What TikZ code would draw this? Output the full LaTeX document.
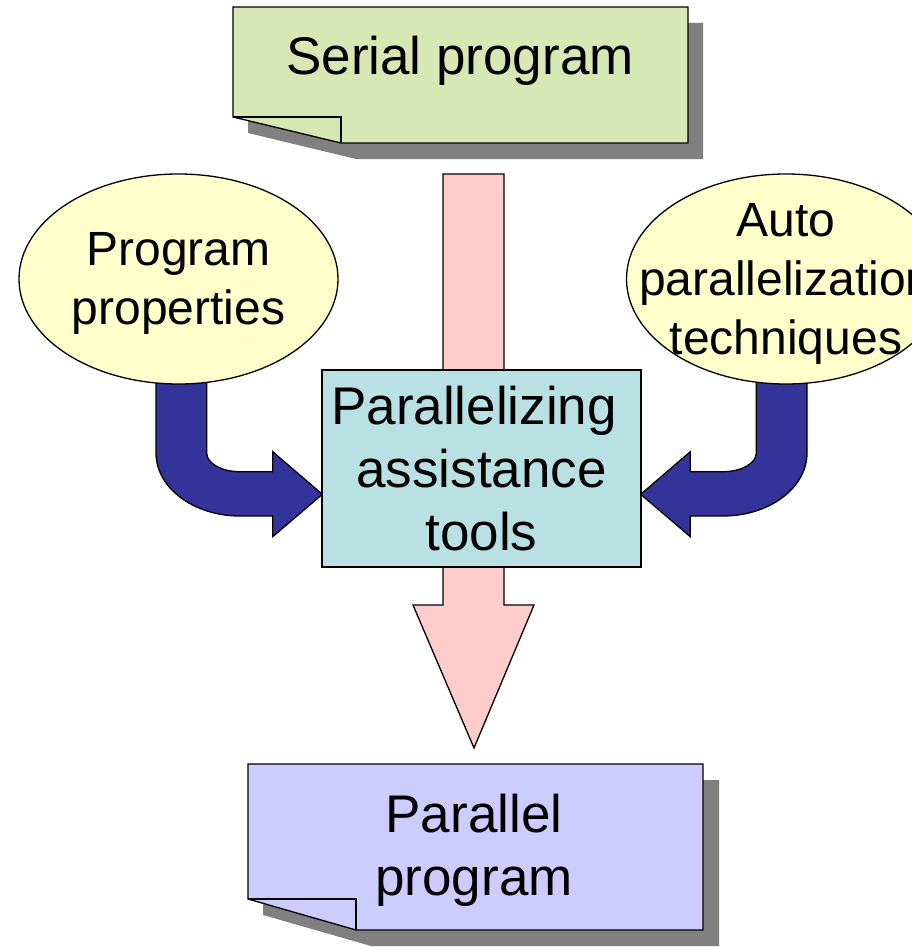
\documentclass[tikz,border=0pt]{standalone}
\usepackage{fontspec}
\setmainfont{Liberation Sans}
\definecolor{notegreen}{HTML}{D8E8B5}
\definecolor{notelilac}{HTML}{CCCCFF}
\definecolor{ovalyellow}{HTML}{FFFFCC}
\definecolor{boxteal}{HTML}{B9E0E3}
\definecolor{flowpink}{HTML}{FFCCCC}
\definecolor{bendblue}{HTML}{333399}
\definecolor{shadowgrey}{HTML}{808080}
\begin{document}
\begin{tikzpicture}[x=1pt,y=-1pt,
  outline/.style={draw=black,line width=1.3pt,line join=miter},
  shade/.style={fill=shadowgrey},
  bigtext/.style={font=\fontsize{53}{63}\selectfont,align=center,inner sep=0pt},
  ovaltext/.style={font=\fontsize{48}{59}\selectfont,align=center,inner sep=0pt}]
\useasboundingbox (0,0) rectangle (911,947);

% ---- serial program note (folded lower-left corner) ----
\fill[shade] (248,23) -- (703,23) -- (703,159) -- (356,159) -- (248,133) -- cycle;
\filldraw[fill=notegreen,outline] (233,7) -- (688,7) -- (688,143) -- (341,143) -- (233,117) -- cycle;
\draw[outline] (233,117) -- (341,117) -- (341,143);
\node[bigtext,anchor=base] (serial) at (460,75) {Serial program};

% ---- parallel program note ----
\fill[shade] (263,780) -- (719,780) -- (719,946) -- (371,946) -- (263,915) -- cycle;
\filldraw[fill=notelilac,outline] (248,764) -- (703,764) -- (703,930) -- (356,930) -- (248,899) -- cycle;
\draw[outline] (248,899) -- (356,899) -- (356,930);
\node[bigtext] (parallel) at (474,850) {Parallel\\program};

% ---- main flow arrow ----
\filldraw[fill=flowpink,outline] (443,174) -- (504,174) -- (504,605) -- (534,605)
  -- (474,748) -- (413,605) -- (443,605) -- cycle;

% ---- bent arrows into the tool box ----
\filldraw[fill=bendblue,outline] (156,370) -- (156,453)
  .. controls (156,487.8) and (193.6,516) .. (240,516)
  -- (272.7,516) -- (272.7,536.7) -- (322.3,494.3) -- (272.7,451.7) -- (272.7,471.7)
  -- (240,471.7) .. controls (221.6,471.7) and (206.7,463.3) .. (206.7,453)
  -- (206.7,370) -- cycle;
\filldraw[fill=bendblue,outline] (807,370) -- (807,453)
  .. controls (807,487.8) and (769.4,516) .. (723,516)
  -- (690.3,516) -- (690.3,536.7) -- (640.7,494.3) -- (690.3,451.7) -- (690.3,471.7)
  -- (723,471.7) .. controls (741.4,471.7) and (756.3,463.3) .. (756.3,453)
  -- (756.3,370) -- cycle;

% ---- input ovals ----
\filldraw[fill=ovalyellow,outline] (178.5,279) ellipse [x radius=159.5, y radius=105];
\node[ovaltext] (props) at (178.5,283) {Program\\properties};
\filldraw[fill=ovalyellow,outline] (786,279) ellipse [x radius=159.5, y radius=105];
\node[ovaltext] (auto) at (786,284) {Auto\\parallelization\\techniques};

% ---- tool box ----
\node[bigtext,draw=black,line width=1.3pt,fill=boxteal,minimum width=319pt,minimum height=197pt]
  (tools) at (481.5,468.5) {Parallelizing\hspace*{0.278em}\\assistance\\tools};
\end{tikzpicture}
\end{document}
